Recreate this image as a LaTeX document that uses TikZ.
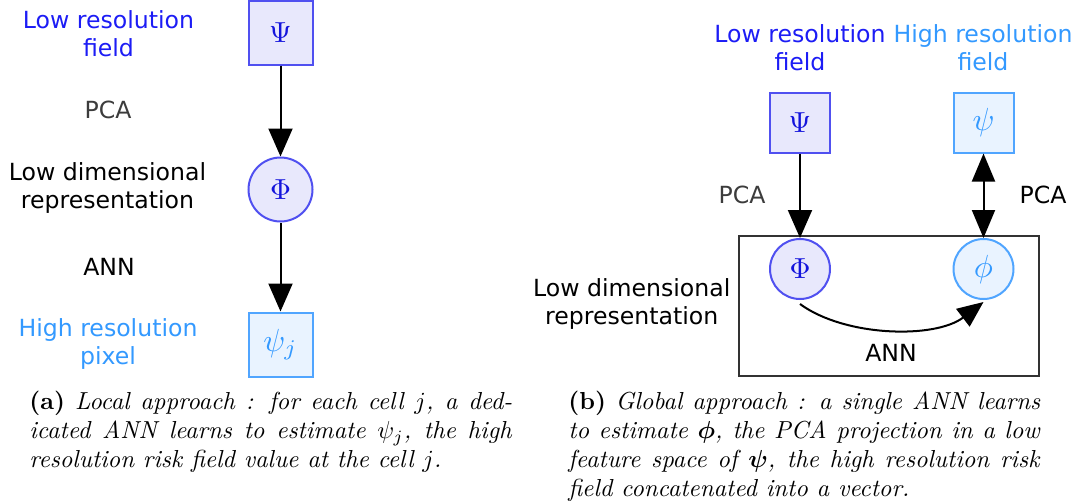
\documentclass[tikz,border=0pt]{standalone}
\usepackage{graphicx}
\usepackage{fontspec}
\usepackage{bm}
\newfontfamily\dvs{DejaVu Sans}
\usetikzlibrary{arrows.meta}
\definecolor{lowtxt}{RGB}{28,28,245}
\definecolor{lowbox}{RGB}{80,80,240}
\definecolor{lowfill}{RGB}{232,232,252}
\definecolor{lowsym}{RGB}{20,20,220}
\definecolor{hightxt}{RGB}{51,153,255}
\definecolor{highbox}{RGB}{80,165,255}
\definecolor{highfill}{RGB}{233,243,255}
\definecolor{highsym}{RGB}{51,153,255}
\definecolor{pcagray}{RGB}{60,60,60}
\definecolor{framegray}{RGB}{50,50,50}
\newcommand\jline[2]{\hbox to #1{#2}}
\newcommand\bigsym[1]{\scalebox{1.45}{$#1$}}
\newcommand\smallsym[1]{\scalebox{1.6}{$#1$}}
\newcommand\capbox[1]{\scalebox{1.23}{\vbox{\fontsize{10}{11.79}\selectfont #1}}}
\begin{document}
\begin{tikzpicture}[x=0.5pt,y=-0.5pt,
  lab/.style={font=\dvs\fontsize{11.8}{14}\selectfont, align=center, inner sep=0pt},
  sqbox/.style={draw, line width=1pt, minimum size=#1, inner sep=0pt},
  circbox/.style={circle, draw, line width=1pt, minimum size=#1, inner sep=0pt},
  lowst/.style={draw=lowbox, fill=lowfill, text=lowsym},
  highst/.style={draw=highbox, fill=highfill, text=highsym},
  arr/.style={-{Triangle[length=14pt,width=12pt]}, line width=1pt},
  darr/.style={{Triangle[length=14pt,width=11.5pt]}-{Triangle[length=14pt,width=11.5pt]}, line width=1pt},
  framebox/.style={draw=framegray, line width=1pt, minimum width=150pt, minimum height=70pt, inner sep=0pt},
  capfont/.style={inner sep=0pt, anchor=north west}
]
\useasboundingbox (0,0) rectangle (1073,504);

% ---------- left panel ----------
\node[sqbox=32pt, lowst] (PsiL) at (280.5,32.5) {\bigsym{\Psi}};
\node[circbox=32pt, lowst] (PhiL) at (280.5,189.5) {\bigsym{\Phi}};
\node[sqbox=32pt, highst] (psij) at (280.5,344.5) {\smallsym{\psi_j}};
\draw[arr] (PsiL) -- (PhiL);
\draw[arr] (PhiL) -- (psij);

\node[lab, text=lowtxt] (lLow) at (108.5,34) {Low resolution\\field};
\node[lab, text=pcagray] (lPCA) at (108,110) {PCA};
\node[lab] (lDim) at (107.5,187.5) {Low dimensional\\representation};
\node[lab] (lANN) at (109,267) {ANN};
\node[lab, text=hightxt] (lHigh) at (108,344) {High resolution\\pixel};

% ---------- right panel ----------
\node[framebox] (frame) at (888.5,305.5) {};
\node[sqbox=30pt, lowst] (PsiR) at (800,122.5) {\bigsym{\Psi}};
\node[sqbox=30pt, highst] (psiR) at (983.5,122.5) {\smallsym{\psi}};
\node[circbox=30pt, lowst] (PhiR) at (800,269) {\bigsym{\Phi}};
\node[circbox=30pt, highst] (phiR) at (983.5,269) {\smallsym{\phi}};
\draw[arr] (PsiR) -- (PhiR);
\draw[darr] (psiR) -- (phiR);
\draw[-{Triangle[length=13pt,width=11pt]}, line width=1pt]
  ([yshift=-2pt]PhiR.south) .. controls (845,337) and (935,339) .. ([yshift=-1pt]phiR.south);

\node[lab, text=lowtxt] (rLow) at (800,48) {Low resolution\\field};
\node[lab, text=hightxt] (rHigh) at (983,48) {High resolution\\field};
\node[lab, text=pcagray] (rPCAl) at (742,195) {PCA};
\node[lab] (rPCAr) at (1043,195) {PCA};
\node[lab] (rDim) at (631.7,304) {Low dimensional\\representation};
\node[lab] (rANN) at (891,353) {ANN};

% ---------- captions ----------
\node[capfont] (capa) at (29,391) {\capbox{%
  \jline{196.3pt}{\textbf{(a)} \textit{Local approach : for each cell $j$, a ded-}}
  \jline{196.3pt}{\textit{icated ANN learns to estimate $\psi_j$, the high}}
  \hbox{\textit{resolution risk field value at the cell $j$.}}}};
\node[capfont] (capb) at (568,391) {\capbox{%
  \jline{191.9pt}{\textbf{(b)} \textit{Global approach : a single ANN learns}}
  \jline{191.9pt}{\textit{to estimate $\bm{\phi}$, the PCA projection in a low}}
  \jline{191.9pt}{\textit{feature space of $\bm{\psi}$, the high resolution risk}}
  \hbox{\textit{field concatenated into a vector.}}}};
\end{tikzpicture}
\end{document}
